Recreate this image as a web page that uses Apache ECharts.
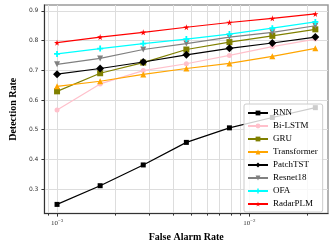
<!DOCTYPE html>
<html><head><meta charset="utf-8">
<script src="https://cdn.jsdelivr.net/npm/echarts@6/dist/echarts.min.js"></script>
<style>html,body{margin:0;padding:0;background:#fff}#c{width:333px;height:247px}</style>
</head><body><div id="c"></div>
<script>
// False alarm rates (x)
const far = [0.001, 0.001675, 0.002805, 0.0047, 0.00787, 0.01315, 0.0220];
const seriesNames = ['RNN','Bi-LSTM','GRU','Transformer','PatchTST','Resnet18','OFA','RadarPLM'];
const rnn         = [0.248, 0.311, 0.381, 0.457, 0.506, 0.541, 0.574];
const biLstm      = [0.566, 0.654, 0.699, 0.722, 0.750, 0.780, 0.805];
const gru         = [0.629, 0.690, 0.726, 0.770, 0.795, 0.816, 0.838];
const transformer = [0.646, 0.663, 0.686, 0.706, 0.723, 0.747, 0.774];
const patchTST    = [0.687, 0.706, 0.728, 0.752, 0.774, 0.792, 0.812];
const resnet18    = [0.720, 0.740, 0.770, 0.790, 0.812, 0.828, 0.850];
const ofa         = [0.755, 0.773, 0.790, 0.805, 0.822, 0.842, 0.863];
const radarPLM    = [0.793, 0.812, 0.828, 0.845, 0.861, 0.875, 0.890];
const yTicks = [0.3, 0.4, 0.5, 0.6, 0.7, 0.8, 0.9];
const xMajorTicks = [0.001, 0.01];
const xMinorTicks = [0.0009, 0.002, 0.003, 0.004, 0.005, 0.006, 0.007, 0.008, 0.009, 0.02];
const xRange = [0.00086, 0.0256];
const yRange = [0.217, 0.92];

const L = Math.log10;
const star = 'path://M50,0 L61,35 L98,35 L68,57 L79,91 L50,70 L21,91 L32,57 L2,35 L39,35 Z';
const plus = 'path://M35,0 H65 V35 H100 V65 H65 V100 H35 V65 H0 V35 H35 Z';
const styles = [
  {c:'#000000', s:'rect', z:5},
  {c:'#ffc0cb', s:'circle', z:5},
  {c:'#808000', s:'rect', z:6},
  {c:'#ffa500', s:'triangle', z:6},
  {c:'#000000', s:'diamond', z:8},
  {c:'#808080', s:'triangle', z:6, r:180},
  {c:'#00ffff', s:plus, z:6},
  {c:'#ff0000', s:star, z:6}
];
const allData = [rnn, biLstm, gru, transformer, patchTST, resnet18, ofa, radarPLM];

const series = allData.map((d, i) => ({
  name: seriesNames[i],
  type: 'line',
  xAxisIndex: 0,
  data: d.map((v, k) => [L(far[k]), v]),
  symbol: styles[i].s,
  symbolSize: styles[i].z,
  symbolRotate: styles[i].r || 0,
  showAllSymbol: true,
  animation: false,
  lineStyle: {color: styles[i].c, width: 1.2},
  itemStyle: {color: styles[i].c},
  emphasis: {disabled: true}
}));

const chart = echarts.init(document.getElementById('c'), null, {renderer: 'canvas'});
chart.setOption({
  animation: false,
  backgroundColor: '#fff',
  grid: {left: 32, right: 5, top: 5, bottom: 32, show: true, borderColor: '#9a9a9a', borderWidth: 1.5, containLabel: false},
  xAxis: [{
    type: 'value', min: L(xRange[0]), max: L(xRange[1]),
    name: 'False Alarm Rate', nameLocation: 'middle', nameGap: 16,
    nameTextStyle: {fontFamily: 'Liberation Serif', fontWeight: 'bold', fontSize: 10, color: '#000'},
    axisLine: {show: true, onZero: false, lineStyle: {color: '#333', width: 1}},
    axisTick: {show: true, length: 3, customValues: xMajorTicks.map(L), lineStyle: {color: '#333'}},
    axisLabel: {show: true, margin: 5, customValues: xMajorTicks.map(L),
      formatter: v => '{b|10}{s|' + '\u2212' + Math.round(-v) + '}',
      rich: {b: {fontFamily: 'Liberation Serif', fontSize: 7, color: '#333'},
             s: {fontFamily: 'Liberation Serif', fontSize: 5, color: '#333', padding: [0,0,5,0]}}},
    splitLine: {show: true, lineStyle: {color: '#dddddd', width: 1}}
  }, {
    type: 'value', min: L(xRange[0]), max: L(xRange[1]), position: 'bottom',
    axisLine: {show: false},
    axisTick: {show: true, length: 2, customValues: xMinorTicks.map(L), lineStyle: {color: '#333'}},
    axisLabel: {show: false},
    splitLine: {show: true, lineStyle: {color: '#dddddd', width: 1}}
  }],
  yAxis: {
    type: 'value', min: yRange[0], max: yRange[1],
    name: 'Detection Rate', nameLocation: 'middle', nameGap: 17,
    nameTextStyle: {fontFamily: 'Liberation Serif', fontWeight: 'bold', fontSize: 10, color: '#000'},
    axisLine: {show: true, lineStyle: {color: '#333', width: 1}},
    axisTick: {show: true, length: 3, customValues: yTicks, lineStyle: {color: '#333'}},
    axisLabel: {margin: 6, customValues: yTicks, fontFamily: 'DejaVu Sans', fontSize: 6, color: '#333',
      formatter: v => v.toFixed(1)},
    splitLine: {show: true, lineStyle: {color: '#dddddd', width: 1}}
  },
  legend: {
    orient: 'vertical', left: 244, top: 104,
    itemWidth: 20, itemHeight: 6, itemGap: 3,
    padding: [4, 5, 3, 3],
    backgroundColor: 'rgba(255,255,255,0.8)', borderColor: '#cccccc', borderWidth: 1, borderRadius: 2,
    textStyle: {fontFamily: 'Liberation Serif', fontSize: 9, color: '#000', lineHeight: 10},
    data: seriesNames
  },
  series: series
});
</script></body></html>
